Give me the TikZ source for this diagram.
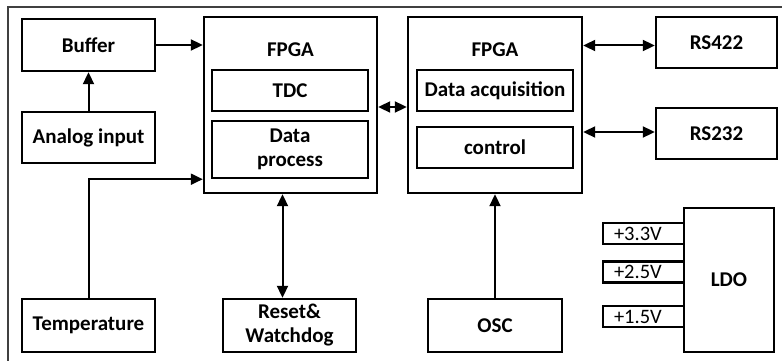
\documentclass[tikz,border=0pt]{standalone}
\usepackage{fontspec}
\setmainfont{Carlito}
\usetikzlibrary{arrows.meta, positioning}
\tikzset{
    block/.style = {rectangle, draw, line width=2.4pt, inner sep=2pt, align=center, font=\bfseries\fontsize{21}{24}\selectfont},
    subblock/.style = {block, minimum width=156pt},
    rail/.style = {rectangle, draw, line width=2.4pt, minimum height=21pt, text width=59pt, inner xsep=11pt, inner ysep=0pt, align=left, font=\fontsize{20.5}{24}\selectfont},
    link/.style = {line width=2pt, -{Triangle[length=12pt, width=11pt]}},
    biarrow/.style = {link, {Triangle[length=12pt, width=11pt]}-{Triangle[length=12pt, width=11pt]}},
    frame/.style = {line width=1.2pt, black!75}
}
\begin{document}
\begin{tikzpicture}[x=1pt, y=-1pt]
  \useasboundingbox[fill=white] (0,0) rectangle (782,361);
  \draw[frame] (8,361) -- (8,7) -- (782,7);

  % left column
  \node[block, minimum width=133pt, minimum height=52pt] (buffer) at (88.5,45) {Buffer};
  \node[block, minimum width=133pt, minimum height=51pt] (analog) at (88.5,137.5) {Analog input};
  \node[block, minimum width=133pt, minimum height=53pt] (temp) at (88.5,325.5) {Temperature};

  % first FPGA
  \node[block, minimum width=173pt, minimum height=176pt] (fpgaA) at (290.5,105) {};
  \node[font=\bfseries\fontsize{21}{24}\selectfont] (fpgaAtitle) at (290.5,50) {FPGA};
  \node[subblock, minimum height=41pt] (tdc) at (290,90.5) {TDC};
  \node[subblock, minimum height=57pt] (dproc) at (290,149.5) {Data\\process};
  \node[block, minimum width=133pt, minimum height=53pt] (reset) at (289.5,325.5) {Reset\&\\Watchdog};

  % second FPGA
  \node[block, minimum width=174pt, minimum height=176pt] (fpgaB) at (495,105) {};
  \node[font=\bfseries\fontsize{21}{24}\selectfont] (fpgaBtitle) at (495,50) {FPGA};
  \node[subblock, minimum height=41pt] (daq) at (495,90.5) {Data acquisition};
  \node[subblock, minimum height=41pt] (ctrl) at (495,147.5) {control};
  \node[block, minimum width=134pt, minimum height=53pt] (osc) at (495,325.5) {OSC};

  % interfaces
  \node[block, minimum width=121pt, minimum height=51pt] (rs422) at (716.5,42.5) {RS422};
  \node[block, minimum width=121pt, minimum height=51pt] (rs232) at (716.5,133.5) {RS232};

  % power
  \node[block, minimum width=90pt, minimum height=144pt] (ldo) at (729,280) {LDO};
  \node[rail] (v33) at (643.5,233.5) {+3.3V};
  \node[rail] (v25) at (643.5,272) {+2.5V};
  \node[rail] (v15) at (643.5,316.5) {+1.5V};

  % connectors
  \draw[link] (analog) -- (buffer);
  \draw[link] (buffer.east) -- (buffer.east -| fpgaA.west);
  \draw[link] (temp.north) |- (fpgaA.west |- dproc.south);
  \draw[biarrow] ([xshift=-8pt]fpgaA.south) -- ([xshift=-8pt]fpgaA.south |- reset.north);
  \draw[biarrow] ([yshift=-2pt]fpgaA.east) -- ([yshift=-2pt]fpgaB.west);
  \draw[biarrow] ([yshift=-3pt]rs422.west -| fpgaB.east) -- ([yshift=-3pt]rs422.west);
  \draw[biarrow] ([yshift=1.5pt]rs232.west -| fpgaB.east) -- ([yshift=1.5pt]rs232.west);
  \draw[link] (osc) -- (fpgaB);
\end{tikzpicture}
\end{document}
